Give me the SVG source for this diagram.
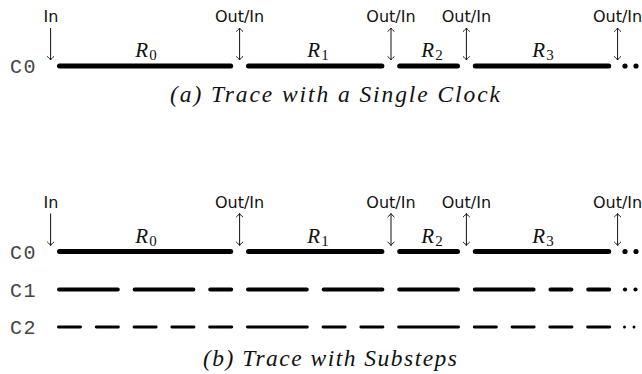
<svg xmlns="http://www.w3.org/2000/svg" width="642" height="374" viewBox="0 0 642 374">
  <defs>
    <style>
      .io { font-family: "DejaVu Sans", sans-serif; font-size: 16px; fill: #111; text-anchor: middle; }
      .clk { font-family: "Liberation Mono", monospace; font-size: 20px; fill: #444; letter-spacing: 1.5px; }
      .reg { font-family: "Liberation Serif", serif; font-style: italic; font-size: 21px; fill: #111; text-anchor: middle; }
      .sub { font-style: normal; font-size: 15px; }
      .cap { font-family: "Liberation Serif", serif; font-style: italic; font-size: 23.5px; fill: #111; text-anchor: middle; }
      .arr { stroke: #111; stroke-width: 1; fill: none; }
      .c0 { stroke: #000; stroke-width: 5; stroke-linecap: round; fill: none; }
      .c1 { stroke: #000; stroke-width: 4; stroke-linecap: round; fill: none; }
      .c2 { stroke: #000; stroke-width: 2.8; stroke-linecap: round; fill: none; }
    </style>
    <marker id="tip" markerUnits="userSpaceOnUse" viewBox="-5 -5 6 10" refX="0" refY="0" markerWidth="6" markerHeight="10" orient="auto-start-reverse">
      <path d="M -3.6 -3.4 C -2.2 -1.6 -0.7 -0.4 0 0 C -0.7 0.4 -2.2 1.6 -3.6 3.4" stroke="#111" stroke-width="1" fill="none"/>
    </marker>
  </defs>

  <!-- (a) single clock trace -->
  <g id="trace-a">
    <g id="a-labels">
      <text class="clk" x="10" y="73">C0</text>
      <text class="io" x="51" y="22">In</text>
      <text class="io" x="239.6" y="22">Out/In</text>
      <text class="io" x="391" y="22">Out/In</text>
      <text class="io" x="466.4" y="22">Out/In</text>
      <text class="io" x="617.6" y="22">Out/In</text>
      <text class="reg" x="146" y="57">R<tspan class="sub" dx="1" dy="3">0</tspan></text>
      <text class="reg" x="318" y="57">R<tspan class="sub" dx="1" dy="3">1</tspan></text>
      <text class="reg" x="432" y="57">R<tspan class="sub" dx="1" dy="3">2</tspan></text>
      <text class="reg" x="543" y="57">R<tspan class="sub" dx="1" dy="3">3</tspan></text>
    </g>
    <g id="a-c0">
      <path class="c0" d="M59.5 66H230.7M248.5 66H381.9M399.7 66H457.5M475.3 66H608.7"/>
      <circle cx="625" cy="66" r="2.6"/>
      <circle cx="636" cy="66" r="2.6"/>
    </g>
    <g id="a-connectors">
      <path class="arr" d="M50.6 28V60" marker-end="url(#tip)"/>
      <path class="arr" d="M239.6 28V60" marker-start="url(#tip)" marker-end="url(#tip)"/>
      <path class="arr" d="M391 28V60" marker-start="url(#tip)" marker-end="url(#tip)"/>
      <path class="arr" d="M466.4 28V60" marker-start="url(#tip)" marker-end="url(#tip)"/>
      <path class="arr" d="M617.6 28V60" marker-start="url(#tip)" marker-end="url(#tip)"/>
    </g>
    <text class="cap" x="335" y="102" textLength="330" lengthAdjust="spacing">(a) Trace with a Single Clock</text>
  </g>

  <!-- (b) trace with substeps -->
  <g id="trace-b">
    <g id="b-labels">
      <text class="clk" x="10" y="258.5">C0</text>
      <text class="clk" x="10" y="296.5">C1</text>
      <text class="clk" x="10" y="334">C2</text>
      <text class="io" x="51" y="207.5">In</text>
      <text class="io" x="239.6" y="207.5">Out/In</text>
      <text class="io" x="391" y="207.5">Out/In</text>
      <text class="io" x="466.4" y="207.5">Out/In</text>
      <text class="io" x="617.6" y="207.5">Out/In</text>
      <text class="reg" x="146" y="242.5">R<tspan class="sub" dx="1" dy="3">0</tspan></text>
      <text class="reg" x="318" y="242.5">R<tspan class="sub" dx="1" dy="3">1</tspan></text>
      <text class="reg" x="432" y="242.5">R<tspan class="sub" dx="1" dy="3">2</tspan></text>
      <text class="reg" x="543" y="242.5">R<tspan class="sub" dx="1" dy="3">3</tspan></text>
    </g>
    <g id="b-c0">
      <path class="c0" d="M59.5 251.5H230.7M248.5 251.5H381.9M399.7 251.5H457.5M475.3 251.5H608.7"/>
      <circle cx="625" cy="251.5" r="2.6"/>
      <circle cx="636" cy="251.5" r="2.6"/>
    </g>
    <g id="b-c1">
      <path class="c1" d="M59 289.5H117.8M134.6 289.5H193.4M210.2 289.5H231.2M248 289.5H306.8M323.6 289.5H382.4M399.2 289.5H458M474.8 289.5H533.6M550.4 289.5H571.4M588.2 289.5H609.2"/>
      <circle cx="625" cy="289.5" r="2.1"/>
      <circle cx="635.5" cy="289.5" r="2.1"/>
    </g>
    <g id="b-c2">
      <path class="c2" d="M58.4 327H80.6M96.2 327H118.4M134 327H156.2M171.8 327H194M209.6 327H231.8M247.4 327H307.4M323 327H345.2M360.8 327H383M398.6 327H458.6M474.2 327H496.4M512 327H534.2M549.8 327H572M587.6 327H609.8"/>
      <circle cx="624.5" cy="327" r="1.5"/>
      <circle cx="634" cy="327" r="1.5"/>
    </g>
    <g id="b-connectors">
      <path class="arr" d="M50.6 213.5V245.5" marker-end="url(#tip)"/>
      <path class="arr" d="M239.6 213.5V245.5" marker-start="url(#tip)" marker-end="url(#tip)"/>
      <path class="arr" d="M391 213.5V245.5" marker-start="url(#tip)" marker-end="url(#tip)"/>
      <path class="arr" d="M466.4 213.5V245.5" marker-start="url(#tip)" marker-end="url(#tip)"/>
      <path class="arr" d="M617.6 213.5V245.5" marker-start="url(#tip)" marker-end="url(#tip)"/>
    </g>
    <text class="cap" x="330" y="366" textLength="254" lengthAdjust="spacing">(b) Trace with Substeps</text>
  </g>
</svg>
